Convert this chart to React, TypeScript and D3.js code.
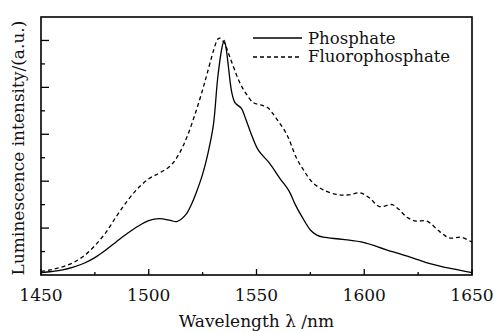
import React from "react";
import * as d3 from "d3";

const phosphateWl = [1450, 1455, 1460, 1465, 1470, 1475, 1480, 1485, 1490, 1495, 1500, 1505, 1510, 1513, 1517, 1520, 1522, 1525, 1527.5, 1530, 1532, 1534, 1535, 1536, 1537, 1538.5, 1540, 1543, 1545, 1548, 1551, 1556, 1561, 1565, 1568, 1571, 1575, 1578, 1581, 1590, 1600, 1610, 1620, 1630, 1640, 1650];
const phosphateVal = [0.1, 0.15, 0.22, 0.34, 0.5, 0.74, 1.06, 1.42, 1.77, 2.08, 2.32, 2.4, 2.33, 2.28, 2.55, 3.05, 3.5, 4.3, 5.2, 6.4, 8.4, 9.7, 10, 9.6, 8.85, 7.8, 7.35, 7.1, 6.65, 5.9, 5.3, 4.77, 4.1, 3.6, 3.0, 2.5, 1.92, 1.7, 1.61, 1.52, 1.38, 1.08, 0.8, 0.5, 0.28, 0.1];

const fluoroWl = [1450, 1455, 1460, 1465, 1470, 1475, 1480, 1485, 1490, 1495, 1500, 1505, 1510, 1514, 1518, 1522, 1525, 1527, 1530, 1532, 1533, 1535, 1538, 1542, 1545, 1548.5, 1552, 1555, 1559, 1564, 1568.5, 1572, 1576, 1581, 1588, 1593, 1598, 1602.5, 1607, 1613, 1616, 1620, 1624, 1629, 1635, 1639.5, 1645, 1650];
const fluoroVal = [0.15, 0.23, 0.35, 0.53, 0.82, 1.25, 1.8, 2.5, 3.15, 3.7, 4.1, 4.35, 4.65, 5.15, 5.95, 7.0, 7.9, 8.55, 9.55, 10.05, 10.1, 9.9, 9.2, 8.25, 7.75, 7.35, 7.25, 7.15, 6.7, 6.0, 5.0, 4.45, 3.95, 3.63, 3.42, 3.42, 3.5, 3.28, 2.92, 3.0, 2.8, 2.45, 2.3, 2.3, 1.85, 1.58, 1.61, 1.4];

const xTickValues = [1450, 1500, 1550, 1600, 1650];
const xMinorTicks = [1475, 1525, 1575, 1625];
const yMajorTicks = [2, 4, 6, 8, 10];
const yMinorTicks = [1, 3, 5, 7, 9];

const seriesNames = ["Phosphate", "Fluorophosphate"];

const W = 497, H = 333;
const L = 41, R = 472, T = 17, B = 275;
const FONT = "'DejaVu Serif', serif";

export default function App() {
  const x = d3.scaleLinear().domain([1450, 1650]).range([L, R]);
  const y = d3.scaleLinear().domain([0, 11]).range([B, T]);
  const line = d3
    .line<[number, number]>()
    .x((d) => x(d[0]))
    .y((d) => y(d[1]))
    .curve(d3.curveCatmullRom.alpha(0.5));
  const pData = phosphateWl.map((w, i) => [w, phosphateVal[i]] as [number, number]);
  const fData = fluoroWl.map((w, i) => [w, fluoroVal[i]] as [number, number]);

  return (
    <svg width={W} height={H} style={{ position: "absolute", left: 0, top: 0, background: "#fff" }} fontFamily={FONT}>
      <rect x={0} y={0} width={W} height={H} fill="#fff" />
      <path d={line(pData) || ""} fill="none" stroke="#000" strokeWidth={1.3} />
      <path d={line(fData) || ""} fill="none" stroke="#000" strokeWidth={1.3} strokeDasharray="4,3" />
      {xTickValues.map((v) => (
        <g key={"xt" + v}>
          <line x1={x(v)} x2={x(v)} y1={B} y2={B - 6} stroke="#000" strokeWidth={1.3} />
          <text x={x(v)} y={301} fontSize={17} textAnchor="middle" fill="#111">{v}</text>
        </g>
      ))}
      {xMinorTicks.map((v) => (
        <line key={"xm" + v} x1={x(v)} x2={x(v)} y1={B} y2={B - 3} stroke="#000" strokeWidth={1.3} />
      ))}
      {yMajorTicks.map((v) => (
        <line key={"ym" + v} x1={L} x2={L + 8} y1={y(v)} y2={y(v)} stroke="#000" strokeWidth={1.3} />
      ))}
      {yMinorTicks.map((v) => (
        <line key={"yn" + v} x1={L} x2={L + 4} y1={y(v)} y2={y(v)} stroke="#000" strokeWidth={1.3} />
      ))}
      <rect x={L} y={T} width={R - L} height={B - T} fill="none" stroke="#000" strokeWidth={1.6} />
      <text x={(L + R) / 2} y={327} fontSize={17} textAnchor="middle" fill="#111">Wavelength λ /nm</text>
      <text transform={`translate(24, ${(T + B) / 2 + 2}) rotate(-90)`} fontSize={17} textAnchor="middle" fill="#111">
        Luminescence intensity/(a.u.)
      </text>
      <line x1={253} x2={302} y1={38} y2={38} stroke="#000" strokeWidth={1.3} />
      <text x={308} y={44} fontSize={16.5} fill="#111">{seriesNames[0]}</text>
      <line x1={253} x2={302} y1={57} y2={57} stroke="#000" strokeWidth={1.3} strokeDasharray="4,3" />
      <text x={308} y={62} fontSize={16.5} fill="#111">{seriesNames[1]}</text>
    </svg>
  );
}
